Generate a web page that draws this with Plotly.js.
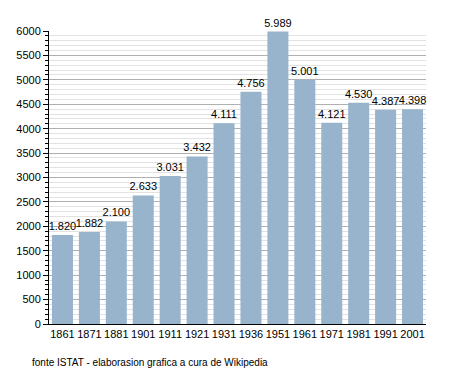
<!DOCTYPE html>
<html><head><meta charset="utf-8">
<script src="https://cdn.plot.ly/plotly-3.0.1.min.js"></script>
<style>body{margin:0;background:#fff}#c{width:455px;height:373px}</style>
</head><body><div id="c"></div>
<script>
const years = ["1861","1871","1881","1901","1911","1921","1931","1936","1951","1961","1971","1981","1991","2001"];
const population = [1820,1882,2100,2633,3031,3432,4111,4756,5989,5001,4121,4530,4387,4398];
const valueLabels = ["1.820","1.882","2.100","2.633","3.031","3.432","4.111","4.756","5.989","5.001","4.121","4.530","4.387","4.398"];
const footer = "fonte ISTAT - elaborasion grafica a cura de Wikipedia";

const trace = {
  type: 'bar', x: years, y: population, text: valueLabels,
  textposition: 'outside', cliponaxis: false, constraintext: 'none',
  textfont: {family: 'Liberation Sans, Arial, sans-serif', size: 11, color: '#000'},
  marker: {color: '#98b3cc'}, hoverinfo: 'none'
};
const layout = {
  width: 455, height: 373,
  margin: {l: 49, r: 29, t: 31, b: 49},
  paper_bgcolor: '#fff', plot_bgcolor: '#fff',
  showlegend: false, bargap: 0.22,
  font: {family: 'Liberation Sans, Arial, sans-serif', size: 11, color: '#000'},
  xaxis: {type: 'category', showline: true, linecolor: '#000', linewidth: 1,
          ticks: '', tickfont: {size: 11, color: '#000'}, fixedrange: true},
  yaxis: {range: [0, 6000], dtick: 500, showgrid: true, gridcolor: '#b0b0b0',
          showline: true, linecolor: '#000', ticks: 'outside', ticklen: 5, tickcolor: '#000',
          zeroline: false, tickfont: {size: 11, color: '#000'},
          minor: {dtick: 100, showgrid: true, gridcolor: '#e2e2e2', ticks: 'outside', ticklen: 3, tickcolor: '#000'}},
  annotations: [{text: footer, xref: 'paper', yref: 'paper', x: (30 - 49) / 377, y: -0.13,
                 xanchor: 'left', yanchor: 'middle', showarrow: false,
                 font: {size: 10, color: '#000'}}]
};
Plotly.newPlot('c', [trace], layout, {staticPlot: true});
</script></body></html>
